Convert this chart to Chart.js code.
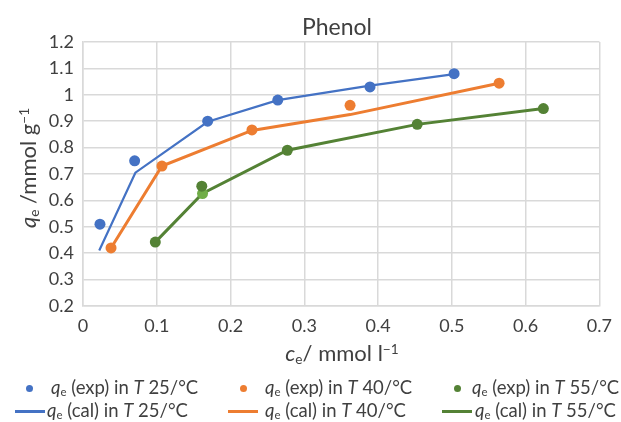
<!DOCTYPE html>
<html>
<head>
<meta charset="utf-8">
<script src="https://cdn.jsdelivr.net/npm/chart.js@4.4.1/dist/chart.umd.min.js"></script>
<style>
  body { margin: 0; background: #fff; font-family: Lato, sans-serif; color: #404040; }
  #wrap { position: relative; width: 621px; height: 422px; }
  canvas { position: absolute; left: 0; top: 0; }
  .txt { position: absolute; white-space: nowrap; line-height: 1; }
  .txt sub { font-size: 0.62em; vertical-align: -0.25em; line-height: 0; }
  .txt sup { font-size: 0.62em; vertical-align: 0.55em; line-height: 0; }
  #title { left: 337px; top: 15px; font-size: 23px; transform: translateX(-50%); }
  #xtitle { left: 342px; top: 342px; font-size: 22px; transform: translateX(-50%); }
  #ytitle { left: 28px; top: 168px; font-size: 22px; transform: translate(-50%, -50%) rotate(-90deg); }
  .leg { position: absolute; font-size: 18.5px; white-space: nowrap; line-height: 1; }
  .leg sub { font-size: 0.62em; vertical-align: -0.2em; line-height: 0; }
  .dot { position: absolute; width: 7px; height: 7px; border-radius: 50%; }
  .bar { position: absolute; height: 3px; }
</style>
</head>
<body>
<div id="wrap">
  <canvas id="chart" width="621" height="422"></canvas>
  <div class="txt" id="title">Phenol</div>
  <div class="txt" id="xtitle"><i>c</i><sub>e</sub>/ mmol l<sup>−1</sup></div>
  <div class="txt" id="ytitle"><i>q</i><sub>e</sub> /mmol g<sup>−1</sup></div>
  <div id="legend"></div>
</div>
<script>
// series data
const temps = [25, 40, 55];
const colors = ['#4472C4', '#ED7D31', '#548235'];

const exp25X = [0.023, 0.070, 0.169, 0.264, 0.389, 0.503];
const exp25Y = [0.51, 0.75, 0.90, 0.98, 1.03, 1.08];
const cal25X = [0.022, 0.071, 0.169, 0.264, 0.389, 0.503];
const cal25Y = [0.41, 0.705, 0.898, 0.98, 1.035, 1.078];

const exp40X = [0.038, 0.107, 0.229, 0.362, 0.564];
const exp40Y = [0.42, 0.73, 0.867, 0.96, 1.044];
const cal40X = [0.038, 0.107, 0.229, 0.362, 0.564];
const cal40Y = [0.42, 0.73, 0.865, 0.925, 1.044];

const exp55X = [0.098, 0.161, 0.277, 0.453, 0.624];
const exp55Y = [0.442, 0.654, 0.79, 0.888, 0.948];
const cal55X = [0.098, 0.162, 0.277, 0.453, 0.624];
const cal55Y = [0.442, 0.626, 0.79, 0.888, 0.948];

const xTicks = [0, 0.1, 0.2, 0.3, 0.4, 0.5, 0.6, 0.7];
const yTicks = [0.2, 0.3, 0.4, 0.5, 0.6, 0.7, 0.8, 0.9, 1, 1.1, 1.2];

const expSets = [[exp25X, exp25Y], [exp40X, exp40Y], [exp55X, exp55Y]];
const calSets = [[cal25X, cal25Y], [cal40X, cal40Y], [cal55X, cal55Y]];

const toPts = (xs, ys) => xs.map((x, i) => ({ x: x, y: ys[i] }));
const fmt = v => String(+(+v).toFixed(1));

const datasets = [];
calSets.forEach((s, i) => {
    datasets.push({
        label: 'qe (cal) in T ' + temps[i] + '/°C',
        data: toPts(s[0], s[1]),
        borderColor: colors[i],
        borderWidth: i === 0 ? 2.2 : 3,
        // the 55 °C fit has one lighter marker at its second point
        pointRadius: i === 2 ? [0, 5.5, 0, 0, 0] : 0,
        pointBackgroundColor: '#70AD47',
        pointBorderWidth: 0,
        showLine: true,
        fill: false,
        tension: 0,
        order: 2
    });
});
expSets.forEach((s, i) => {
    datasets.push({
        label: 'qe (exp) in T ' + temps[i] + '/°C',
        data: toPts(s[0], s[1]),
        backgroundColor: colors[i],
        borderColor: colors[i],
        pointRadius: 5.5,
        pointBorderWidth: 0,
        showLine: false,
        order: 1
    });
});

const gridColor = '#d9d9d9';
const tickFont = { family: 'Lato', size: 18 };

new Chart(document.getElementById('chart').getContext('2d'), {
    type: 'scatter',
    data: { datasets: datasets },
    options: {
        responsive: false,
        animation: false,
        layout: { padding: { left: 0, top: 42, right: 16, bottom: 0 } },
        plugins: { legend: { display: false }, tooltip: { enabled: false } },
        scales: {
            x: {
                type: 'linear',
                min: xTicks[0],
                max: xTicks[xTicks.length - 1],
                afterBuildTicks: s => { s.ticks = xTicks.map(v => ({ value: v })); },
                afterFit: s => { s.height = 116; },
                ticks: { font: tickFont, color: '#404040', padding: 9, callback: fmt, maxRotation: 0 },
                grid: { color: gridColor, lineWidth: 1.5, drawTicks: false },
                border: { color: gridColor, width: 1.5 }
            },
            y: {
                type: 'linear',
                min: yTicks[0],
                max: yTicks[yTicks.length - 1],
                afterBuildTicks: s => { s.ticks = yTicks.map(v => ({ value: v })); },
                afterFit: s => { s.width = 83; },
                ticks: { font: tickFont, color: '#404040', padding: 9, callback: fmt },
                grid: { color: gridColor, lineWidth: 1.5, drawTicks: false },
                border: { color: gridColor, width: 1.5 }
            }
        }
    }
});

// legend: two rows (exp dots, cal lines), three columns
const legCols = [
    { dot: 29, expText: 51, bar: 15, calText: 47 },
    { dot: 243, expText: 265, bar: 228, calText: 265 },
    { dot: 457, expText: 472, bar: 442, calText: 475 }
];
const legend = document.getElementById('legend');
temps.forEach((t, i) => {
    const c = legCols[i];
    legend.insertAdjacentHTML('beforeend',
        '<div class="dot" style="left:' + (c.dot - 3.5) + 'px;top:' + (388 - 3.5) + 'px;background:' + colors[i] + '"></div>' +
        '<div class="leg" style="left:' + c.expText + 'px;top:378px"><i>q</i><sub>e</sub> (exp) in <i>T</i> ' + t + '/°C</div>' +
        '<div class="bar" style="left:' + c.bar + 'px;width:30px;top:' + (411 - 1.5) + 'px;background:' + colors[i] + '"></div>' +
        '<div class="leg" style="left:' + c.calText + 'px;top:401px"><i>q</i><sub>e</sub> (cal) in <i>T</i> ' + t + '/°C</div>'
    );
});
</script>
</body>
</html>
